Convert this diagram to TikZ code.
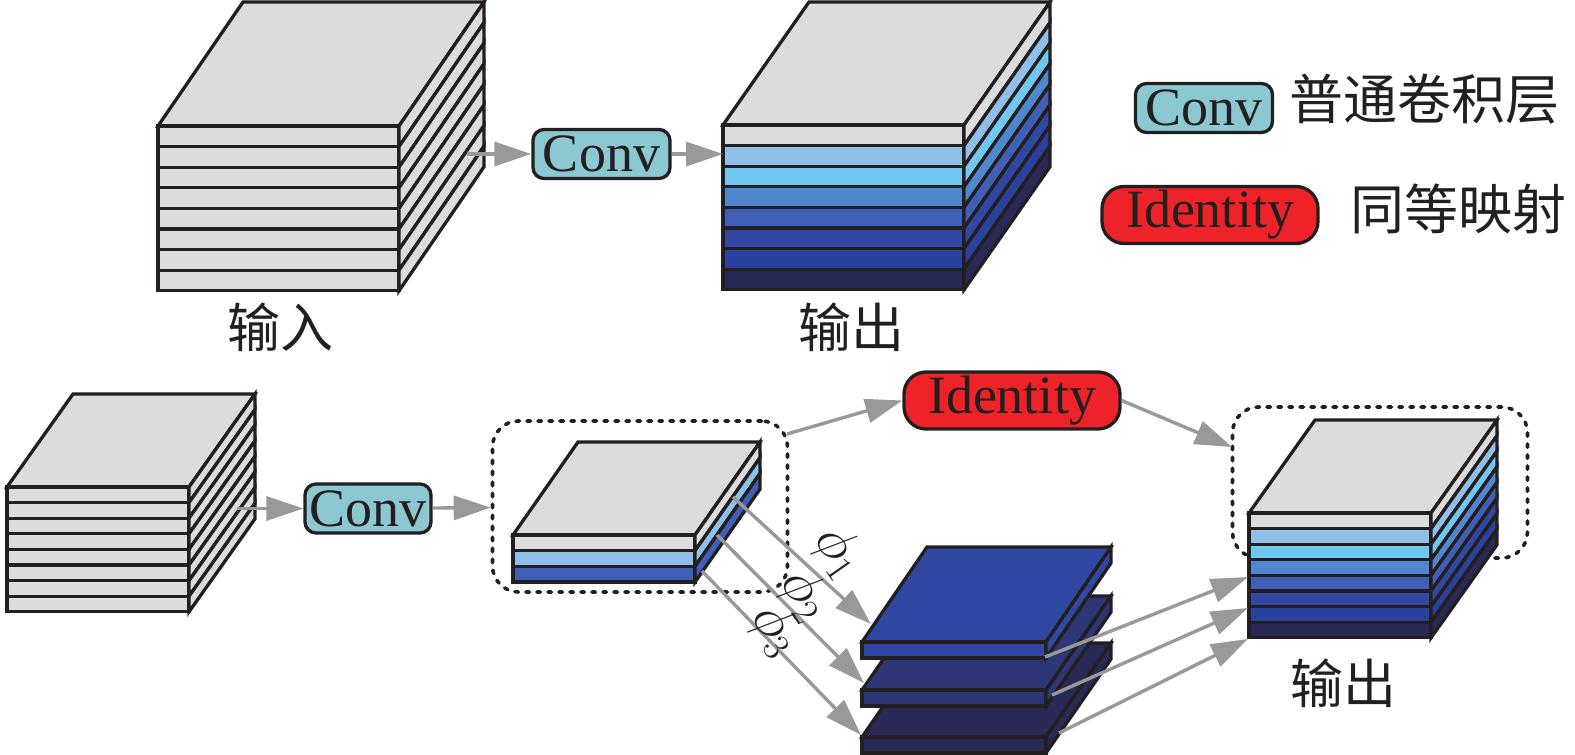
\documentclass[tikz,border=0pt]{standalone}
\usepackage{amsmath,amssymb}
\usepackage{fontspec}
\setmainfont{Liberation Serif}
\newfontfamily\cjk{Noto Sans CJK SC}
\usepackage{tikz}
\usetikzlibrary{arrows.meta,positioning,calc}

\definecolor{lgray}{HTML}{DCDCDC}
\definecolor{lsky}{HTML}{90C0E8}
\definecolor{lcyan}{HTML}{70C8F0}
\definecolor{lblue}{HTML}{5088D0}
\definecolor{lmid}{HTML}{4060B8}
\definecolor{lroyal}{HTML}{3048A2}
\definecolor{ldeep}{HTML}{2A429E}
\definecolor{lnavy}{HTML}{2E3675}
\definecolor{ldark}{HTML}{282A55}
\definecolor{convfill}{HTML}{8CC8D2}
\definecolor{idfill}{HTML}{EE2229}
\definecolor{arrgray}{HTML}{999999}
\definecolor{inkline}{HTML}{231F20}

% x, y of front top left, width, depth dx, depth dy, layer height, colours
\newcommand{\layerstack}[7]{
  \foreach \col [count=\i from 0] in {#7} {
    \ifnum\i=0
      \fill[\col] (#1,#2) -- ++(#4,-#5) -- ++(#3,0) -- ++(-#4,#5) -- cycle;
      \draw[face] (#1,#2) -- ++(#4,-#5) -- ++(#3,0) -- ++(-#4,#5) -- cycle;
    \fi
    \draw[face, fill=\col] (#1,#2+\i*#6) rectangle ++(#3,#6);
    \draw[face, fill=\col] (#1+#3,#2+\i*#6) -- ++(#4,-#5) -- ++(0,#6) -- ++(-#4,#5) -- cycle;
  }
}

\begin{document}
\begin{tikzpicture}[
    x=1pt, y=-1pt,
    face/.style={draw=inkline, line width=3.3pt, line join=miter},
    conv/.style={draw=inkline, line width=3.3pt, rounded corners=11pt, fill=convfill, minimum width=137pt, minimum height=49pt, inner sep=0pt, font=\fontsize{54}{54}\selectfont, text=inkline},
    ident/.style={draw=inkline, line width=3.3pt, rounded corners=22pt, fill=idfill, minimum width=216pt, minimum height=57pt, inner sep=0pt, font=\fontsize{54}{54}\selectfont, text=inkline},
    arr/.style={-{Triangle[length=37pt,width=24pt]}, draw=arrgray, line width=3.4pt},
    dots/.style={draw=inkline, line width=3.6pt, dash pattern=on 3.5pt off 7.5pt, line cap=round, rounded corners=26pt, inner sep=0pt},
    lbl/.style={font=\cjk\fontsize{53}{53}\selectfont, text=inkline, inner sep=0pt},
    sym/.style={font=\Huge, scale=2.2, rotate=-55, text=inkline, inner sep=0pt}
]
\useasboundingbox (0,0) rectangle (1575,755);

% dotted groups
\node[dots, minimum width=295pt, minimum height=171pt] (groupa) at (640,506.5) {};
\node[dots, minimum width=295pt, minimum height=151pt] (groupb) at (1380,482.5) {};

% upper row
\layerstack{158}{126}{241}{85}{124}{20.6}{lgray,lgray,lgray,lgray,lgray,lgray,lgray,lgray}
\layerstack{723}{125}{241}{86}{123}{20.6}{lgray,lsky,lcyan,lblue,lmid,lroyal,ldeep,ldark}

% lower row
\layerstack{7}{487}{182}{66}{93}{15.6}{lgray,lgray,lgray,lgray,lgray,lgray,lgray,lgray}
\layerstack{513}{535}{182}{65}{93}{15.7}{lgray,lsky,lmid}
\layerstack{862}{737}{184}{65}{94}{16}{ldark}
\layerstack{862}{690}{184}{65}{94}{16}{lnavy}
\layerstack{862}{642}{184}{65}{95}{16}{lroyal}
\layerstack{1249}{513}{182}{66}{93}{15.6}{lgray,lsky,lcyan,lblue,lmid,lroyal,ldeep,ldark}

\node[conv] (conva) at (601.5,154) {Conv};
\node[conv, minimum width=126pt] (convb) at (368,508.5) {Conv};
\node[conv] (convc) at (1204,108) {Conv};
\node[ident] (ida) at (1012,400.5) {Identity};
\node[ident] (idb) at (1210,215) {Identity};

\node[lbl] (ina) at (280,327) {输入};
\node[lbl] (outa) at (851,327) {输出};
\node[lbl] (outb) at (1343,683) {输出};
\node[lbl, font=\cjk\fontsize{54}{54}\selectfont] (txta) at (1424,99) {普通卷积层};
\node[lbl, font=\cjk\fontsize{54}{54}\selectfont] (txtb) at (1458,209) {同等映射};

% free ends of the connectors
\coordinate (cubea) at (467,154);
\coordinate (cubeb) at (723,154);
\coordinate (cubec) at (237,508.5);
\coordinate (ga) at (787,434);
\coordinate (gb) at (1232,447);
\coordinate (ph1) at (733,497);
\coordinate (ph2) at (717,535);
\coordinate (ph3) at (702,571);
\coordinate (pa) at (871,624);
\coordinate (pb) at (864,683);
\coordinate (pc) at (861,735);
\coordinate (qa) at (1045,657);
\coordinate (qb) at (1052,695);
\coordinate (qc) at (1059,733);
\coordinate (ra) at (1248,577);
\coordinate (rb) at (1248,608);
\coordinate (rc) at (1248,639);

\draw[arr] (cubea) -- (conva);
\draw[arr] (conva) -- (cubeb);
\draw[arr] (cubec) -- (convb);
\draw[arr] (convb) -- (groupa);
\draw[arr] (ga) -- (ida.west);
\draw[arr] (ida.east) -- (gb);
\draw[arr] (ph1) -- (pa);
\draw[arr] (ph2) -- (pb);
\draw[arr] (ph3) -- (pc);
\draw[arr] (qa) -- (ra);
\draw[arr] (qb) -- (rb);
\draw[arr] (qc) -- (rc);

\node[sym] (phia) at (839,552) {$\phi_{\scriptscriptstyle 1}$};
\node[sym] (phib) at (805,595) {$\phi_{\scriptscriptstyle 2}$};
\node[sym] (phic) at (776,630) {$\phi_{\scriptscriptstyle 3}$};
\end{tikzpicture}
\end{document}
